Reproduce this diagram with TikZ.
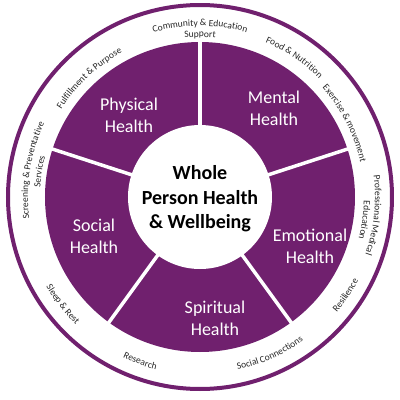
\documentclass[tikz,border=0pt]{standalone}
\usepackage{fontspec}
\setmainfont{Carlito}
\usetikzlibrary{decorations.text}
\definecolor{wheelpurple}{RGB}{112,32,110}
\definecolor{ringgray}{RGB}{38,38,38}
\newcommand\segfont{\fontsize{18}{22}\selectfont}
\newcommand\hubfont{\bfseries\fontsize{20}{24.5}\selectfont}
\newcommand\ringfont{\color{ringgray}\fontsize{9.5}{11}\selectfont}
\tikzstyle{seglabel} = [text=white, align=center, font=\segfont]
\tikzstyle{hublabel} = [text=black, align=center, font=\hubfont]
% text on the white ring: #1 angle, #2 baseline radius, #3 text
\newcommand\cwtext[3]{\path[decorate,decoration={text along path,text align=center,text={|\ringfont|#3}}]
  ({#1+45}:#2) arc[start angle={#1+45},end angle={#1-45},radius=#2];}
\newcommand\ccwtext[3]{\path[decorate,decoration={text along path,text align=center,text={|\ringfont|#3}}]
  ({#1-45}:#2) arc[start angle={#1-45},end angle={#1+45},radius=#2];}

\begin{document}
\begin{tikzpicture}[x=1pt,y=1pt]
\useasboundingbox (-200,-203) rectangle (200,197);
% outer ring
\draw[wheelpurple,line width=4pt] (0,0) circle[radius=192];
% the five segments
\fill[wheelpurple] (0,0) circle[radius=155];
\foreach \a in {90,18,-54,-126,-198}{
\draw[white,line width=3.5pt] (0,0)--(\a:157);
}
\fill[white] (0,0) circle[radius=72];

\node[hublabel] (hub) at (0,-2) {Whole\\Person Health\\\& Wellbeing};
\node[seglabel] (physical) at (-71,82) {Physical\\Health};
\node[seglabel] (mental) at (74,89) {Mental\\Health};
\node[seglabel] (emotional) at (110,-49) {Emotional\\Health};
\node[seglabel] (spiritual) at (15,-121) {Spiritual\\Health};
\node[seglabel] (social) at (-106,-39) {Social\\Health};

% ring texts
\cwtext{90}{171}{Community {\&} Education}
\cwtext{90}{160}{Support}
\cwtext{56}{168}{Food {\&} Nutrition}
\cwtext{27}{164}{Exercise {\&} movement}
\cwtext{-6}{175}{Professional Medical}
\cwtext{-8}{164}{Education}
\ccwtext{-34}{179}{Resilience}
\ccwtext{-66}{177}{Social Connections}
\ccwtext{-110}{178}{Research}
\ccwtext{-142}{178}{Sleep {\&} Rest}
\cwtext{171}{172}{Screening {\&} Preventative}
\cwtext{171}{160}{Services}
\cwtext{133}{164}{Fulfillment {\&} Purpose}
\end{tikzpicture}
\end{document}
